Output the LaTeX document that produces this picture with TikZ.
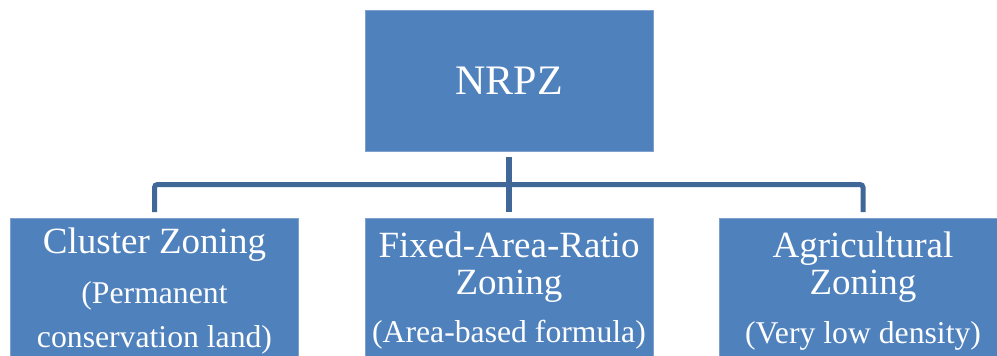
\documentclass[tikz,border=0pt]{standalone}
\usepackage{fontspec}
\setmainfont{Liberation Serif}
\definecolor{boxblue}{HTML}{4F81BD}
\definecolor{boxedge}{HTML}{7F9FCC}
\definecolor{linkblue}{HTML}{3F6797}
\begin{document}
\begin{tikzpicture}[x=1pt,y=-1pt,
  zbox/.style={draw=boxedge, line width=0.8pt, fill=boxblue, minimum width=288pt, minimum height=141pt, inner sep=0pt, outer sep=0pt},
  ztxt/.style={anchor=base, text=white, inner sep=0pt},
  big/.style={font=\fontsize{42}{46}\selectfont},
  mid/.style={font=\fontsize{37}{40}\selectfont},
  small/.style={font=\fontsize{31.7}{34}\selectfont},
  conn/.style={draw=linkblue, line width=5pt},
  ]
\useasboundingbox (0,0) rectangle (997,356);
\clip (0,0) rectangle (997,356);
% boxes
\node[zbox] (top) at (509,80.5) {};
\node[zbox] (L) at (154.5,288.5) {};
\node[zbox] (M) at (509,288.5) {};
\node[zbox] (R) at (863,288.5) {};
% texts
\node[ztxt, big] (ttop) at (509,94) {NRPZ};
\node[ztxt, mid] (l1) at (154.5,253) {Cluster Zoning};
\node[ztxt, small] (l2) at (154.5,303) {(Permanent};
\node[ztxt, small] (l3) at (154.5,347) {conservation land)};
\node[ztxt, mid] (m1) at (509,257) {Fixed-Area-Ratio};
\node[ztxt, mid] (m2) at (509,294) {Zoning};
\node[ztxt, small] (m3) at (509,342) {(Area-based formula)};
\node[ztxt, mid] (r1) at (863,257) {Agricultural};
\node[ztxt, mid] (r2) at (863,294) {Zoning};
\node[ztxt, small] (r3) at (863,343) {(Very low density)};
% connectors
\coordinate (bus) at (509,184.5);
\draw[conn, rounded corners=3pt] ([yshift=6pt]L.north) |- (bus) -| ([yshift=6pt]R.north);
\draw[conn, line width=6pt] ([yshift=-6pt]top.south) -- ([yshift=6pt]M.north);
\end{tikzpicture}
\end{document}
